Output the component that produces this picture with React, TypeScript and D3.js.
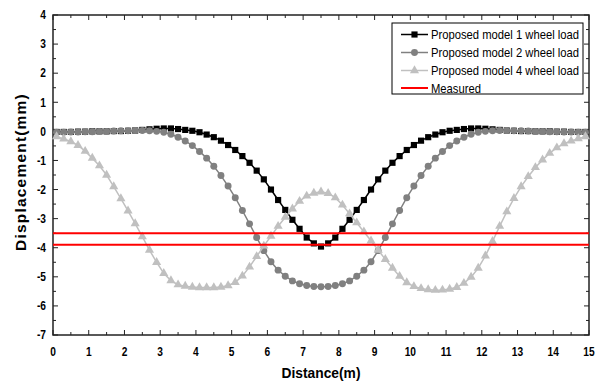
import React from "react";
import * as d3 from "d3";

const distances = [0.1,0.3,0.5,0.7,0.9,1.1,1.3,1.5,1.7,1.9,2.1,2.3,2.5,2.7,2.9,3.1,3.3,3.5,3.7,3.9,4.1,4.3,4.5,4.7,4.9,5.1,5.3,5.5,5.7,5.9,6.1,6.3,6.5,6.7,6.9,7.1,7.3,7.5,7.7,7.9,8.1,8.3,8.5,8.7,8.9,9.1,9.3,9.5,9.7,9.9,10.1,10.3,10.5,10.7,10.9,11.1,11.3,11.5,11.7,11.9,12.1,12.3,12.5,12.7,12.9,13.1,13.3,13.5,13.7,13.9,14.1,14.3,14.5,14.7,14.9];

const model1 = [-0.02,-0.02,-0.02,-0.01,-0.01,0,0,0,0.01,0.01,0.02,0.03,0.05,0.07,0.09,0.1,0.1,0.08,0.05,0.02,-0.03,-0.11,-0.2,-0.32,-0.47,-0.64,-0.85,-1.08,-1.35,-1.65,-2.0,-2.36,-2.7,-3.04,-3.35,-3.65,-3.85,-3.96,-3.85,-3.65,-3.35,-3.04,-2.7,-2.36,-2.0,-1.65,-1.35,-1.08,-0.85,-0.64,-0.47,-0.32,-0.2,-0.11,-0.03,0.02,0.05,0.08,0.1,0.1,0.09,0.07,0.05,0.03,0.02,0.01,0.01,0,0,0,-0.01,-0.01,-0.02,-0.02,-0.02];

const model2 = [-0.03,-0.03,-0.02,-0.02,-0.01,-0.01,0,0,0.01,0.02,0.02,0.03,0.03,0.02,0,-0.03,-0.1,-0.2,-0.33,-0.49,-0.69,-0.92,-1.2,-1.52,-1.88,-2.28,-2.72,-3.18,-3.65,-4.1,-4.48,-4.77,-4.98,-5.14,-5.24,-5.3,-5.33,-5.34,-5.33,-5.3,-5.24,-5.14,-4.98,-4.77,-4.48,-4.1,-3.65,-3.18,-2.72,-2.28,-1.88,-1.52,-1.2,-0.92,-0.69,-0.49,-0.33,-0.2,-0.1,-0.03,0,0.02,0.03,0.03,0.02,0.02,0.01,0,0,-0.01,-0.01,-0.02,-0.02,-0.03,-0.03];

const model4 = [-0.18,-0.26,-0.35,-0.48,-0.68,-0.92,-1.18,-1.5,-1.9,-2.31,-2.73,-3.17,-3.62,-4.08,-4.5,-4.88,-5.13,-5.27,-5.32,-5.35,-5.37,-5.37,-5.37,-5.35,-5.3,-5.19,-4.97,-4.66,-4.3,-3.94,-3.6,-3.26,-2.95,-2.66,-2.4,-2.22,-2.12,-2.08,-2.13,-2.28,-2.53,-2.83,-3.14,-3.45,-3.76,-4.08,-4.4,-4.7,-4.98,-5.2,-5.33,-5.4,-5.44,-5.46,-5.45,-5.42,-5.36,-5.22,-5.01,-4.7,-4.28,-3.78,-3.26,-2.76,-2.3,-1.9,-1.55,-1.24,-0.98,-0.75,-0.56,-0.42,-0.33,-0.25,-0.18];

const measured = [-3.5, -3.9];

const xTicks = [0,1,2,3,4,5,6,7,8,9,10,11,12,13,14,15];
const yTicks = [4,3,2,1,0,-1,-2,-3,-4,-5,-6,-7];

const legendLabels = ["Proposed model 1 wheel load","Proposed model 2 wheel load","Proposed model 4 wheel load","Measured"];

const FONT = "'Liberation Sans', Arial, sans-serif";

export default function App() {
  const W = 603, H = 383;
  const x = d3.scaleLinear().domain([0, 15]).range([53, 589]);
  const y = d3.scaleLinear().domain([-7, 4]).range([335, 15]);
  const [x0, x1] = x.range();
  const [yb, yt] = y.range();

  const series = [
    { vals: model1, color: "#000000", sym: d3.symbolSquare, size: 38 },
    { vals: model2, color: "#808080", sym: d3.symbolCircle, size: 38 },
    { vals: model4, color: "#c0c0c0", sym: d3.symbolTriangle, size: 36 },
  ];

  const line = d3.line<number>().x((_, i) => x(distances[i])).y((v) => y(v));

  const xMinor = d3.range(0, 15.01, 0.5);
  const yMinor = d3.range(-7, 4.01, 0.5);

  const legX = 392, legY = 23;
  const legRows = [34.5, 52.5, 70.5, 88];

  return (
    <svg width={W} height={H} style={{ position: "absolute", left: 0, top: 0, background: "#fff" }} fontFamily={FONT}>
      <rect x={0} y={0} width={W} height={H} fill="#fff" />
      <g stroke="#222" strokeWidth={1}>
        {xMinor.map((t) => {
          const major = Math.abs(t - Math.round(t)) < 1e-6;
          const L = major ? 5 : 3;
          return (
            <g key={"xt" + t}>
              <line x1={x(t)} x2={x(t)} y1={yb} y2={yb - L} />
              <line x1={x(t)} x2={x(t)} y1={yt} y2={yt + L} />
            </g>
          );
        })}
        {yMinor.map((t) => {
          const major = Math.abs(t - Math.round(t)) < 1e-6;
          const L = major ? 5 : 3;
          return (
            <g key={"yt" + t}>
              <line x1={x0} x2={x0 + L} y1={y(t)} y2={y(t)} />
              <line x1={x1} x2={x1 - L} y1={y(t)} y2={y(t)} />
            </g>
          );
        })}
      </g>
      <rect x={x0} y={yt} width={x1 - x0} height={yb - yt} fill="none" stroke="#222" strokeWidth={1.5} />

      {series.map((s, si) => (
        <g key={"s" + si}>
          <path d={line(s.vals) || ""} fill="none" stroke={s.color} strokeWidth={1.5} />
          {s.vals.map((v, i) => (
            <path
              key={i}
              d={d3.symbol().type(s.sym).size(s.size)() || ""}
              transform={`translate(${x(distances[i])},${y(v)})`}
              fill={s.color}
            />
          ))}
        </g>
      ))}

      {measured.map((m, i) => (
        <line key={"m" + i} x1={x0} x2={x1} y1={y(m)} y2={y(m)} stroke="#ff0000" strokeWidth={2} />
      ))}

      <g fontSize={12} fontWeight="bold" fill="#000">
        {xTicks.map((t) => (
          <text key={"xl" + t} transform={`translate(${x(t)},356) scale(0.85,1)`} textAnchor="middle">{t}</text>
        ))}
        {yTicks.map((t) => (
          <text key={"yl" + t} transform={`translate(46,${y(t) + 4.3}) scale(0.85,1)`} textAnchor="end">{t}</text>
        ))}
      </g>

      <text transform={`translate(${(x0 + x1) / 2},378) scale(0.92,1)`} textAnchor="middle" fontSize={15} fontWeight="bold">Distance(m)</text>
      <text
        transform={`translate(26,${(yt + yb) / 2 - 3}) rotate(-90)`}
        textAnchor="middle"
        fontSize={15.5}
        fontWeight="bold"
        letterSpacing={1.2}
      >Displacement(mm)</text>

      <rect x={legX} y={legY} width={191} height={71} fill="#fff" stroke="#000" strokeWidth={1} />
      {legendLabels.map((lab, i) => {
        const yy = legRows[i];
        const s = series[i];
        return (
          <g key={"lg" + i}>
            <line x1={401} x2={428} y1={yy} y2={yy} stroke={s ? s.color : "#ff0000"} strokeWidth={s ? 1.5 : 2} />
            {s && (
              <path d={d3.symbol().type(s.sym).size(s.size)() || ""} transform={`translate(414.5,${yy})`} fill={s.color} />
            )}
            <text transform={`translate(431,${yy + 4.5}) scale(0.9,1)`} fontSize={12.5} fill="#000">{lab}</text>
          </g>
        );
      })}
    </svg>
  );
}
